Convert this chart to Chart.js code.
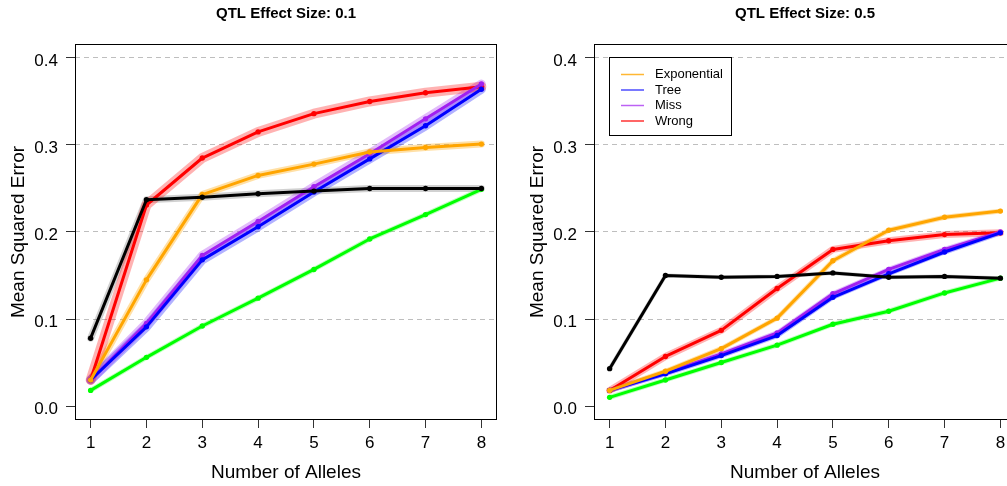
<!DOCTYPE html>
<html>
<head>
<meta charset="utf-8">
<script src="https://cdn.jsdelivr.net/npm/chart.js@4"></script>
<style>
  html, body { margin: 0; padding: 0; background: #fff; overflow: hidden; }
  #wrap { position: relative; width: 1007px; height: 486px; overflow: hidden; }
  canvas { position: absolute; top: 0; }
  #left { left: 0; }
  #right { left: 519px; }
</style>
</head>
<body>
<div id="wrap">
  <canvas id="left" width="572" height="486"></canvas>
  <canvas id="right" width="572" height="486"></canvas>
</div>
<script>
// x categories and tick labels
const alleles = [1, 2, 3, 4, 5, 6, 7, 8];
const yTicks = [0, 0.1, 0.2, 0.3, 0.4];
const panelTitles = ["QTL Effect Size: 0.1", "QTL Effect Size: 0.5"];
const legendLabels = ["Exponential", "Tree", "Miss", "Wrong"];

// QTL effect size 0.1
const exp01 = [0.030, 0.145, 0.243, 0.265, 0.278, 0.292, 0.297, 0.301];
const tree01 = [0.030, 0.091, 0.168, 0.206, 0.246, 0.284, 0.322, 0.364];
const miss01 = [0.030, 0.095, 0.173, 0.212, 0.252, 0.290, 0.330, 0.370];
const wrong01 = [0.030, 0.231, 0.285, 0.315, 0.336, 0.350, 0.360, 0.367];
const green01 = [0.018, 0.056, 0.092, 0.124, 0.157, 0.192, 0.220, 0.249];
const black01 = [0.078, 0.237, 0.240, 0.244, 0.247, 0.250, 0.250, 0.250];

// QTL effect size 0.5
const exp05 = [0.018, 0.040, 0.066, 0.101, 0.167, 0.202, 0.217, 0.224];
const tree05 = [0.018, 0.037, 0.058, 0.081, 0.125, 0.152, 0.177, 0.199];
const miss05 = [0.018, 0.038, 0.060, 0.084, 0.129, 0.157, 0.180, 0.200];
const wrong05 = [0.018, 0.057, 0.087, 0.135, 0.180, 0.190, 0.197, 0.199];
const green05 = [0.010, 0.030, 0.050, 0.070, 0.094, 0.109, 0.130, 0.147];
const black05 = [0.043, 0.150, 0.148, 0.149, 0.153, 0.148, 0.149, 0.147];

const FONT = '"Liberation Sans", Arial, sans-serif';
Chart.defaults.font.family = FONT;
Chart.defaults.color = "#000";

// colours (R defaults) and translucent band colours
const cols = {
  exp: ["#FFA500", "rgba(255,165,0,0.35)"],
  tree: ["#0000FF", "rgba(0,0,255,0.3)"],
  miss: ["#A020F0", "rgba(160,32,240,0.3)"],
  wrong: ["#FF0000", "rgba(255,0,0,0.3)"],
  green: ["#00FF00", "rgba(0,255,0,0.25)"],
  black: ["#000000", "rgba(0,0,0,0.18)"]
};

const boxPlugin = {
  id: "plotBox",
  afterDatasetsDraw(chart) {
    const { ctx, chartArea: a } = chart;
    ctx.save();
    ctx.strokeStyle = "#000";
    ctx.lineWidth = 1;
    ctx.strokeRect(a.left + 0.5, a.top + 0.5, a.right - a.left - 1, a.bottom - a.top - 1);
    ctx.restore();
  }
};

const legendPlugin = {
  id: "rLegend",
  afterDraw(chart) {
    const { ctx, chartArea: a } = chart;
    const x0 = a.left + 15, y0 = a.top + 13;
    const lineCols = ["rgba(255,165,0,0.8)", "rgba(0,0,255,0.7)", "rgba(160,32,240,0.7)", "rgba(255,0,0,0.8)"];
    ctx.save();
    ctx.strokeStyle = "#000";
    ctx.lineWidth = 1;
    ctx.strokeRect(x0 + 0.5, y0 + 0.5, 122, 78);
    ctx.font = "13px " + FONT;
    ctx.textBaseline = "middle";
    ctx.fillStyle = "#000";
    legendLabels.forEach((lab, i) => {
      const y = y0 + 17.5 + i * 15.5;
      ctx.strokeStyle = lineCols[i];
      ctx.lineWidth = 1.5;
      ctx.beginPath();
      ctx.moveTo(x0 + 12, y);
      ctx.lineTo(x0 + 35, y);
      ctx.stroke();
      ctx.fillText(lab, x0 + 46, y);
    });
    ctx.restore();
  }
};

function buildChart(id, title, series, extraPlugins) {
  const datasets = [];
  series.forEach((s, i) => {
    const pts = alleles.map((a, j) => ({ x: a, y: s.values[j] }));
    datasets.push({
      label: s.name + " band", data: pts, borderColor: s.col[1], borderWidth: s.band,
      pointRadius: 0, borderJoinStyle: "round", borderCapStyle: "round", order: 50 + i
    });
    datasets.push({
      label: s.name, data: pts, borderColor: s.col[0], backgroundColor: s.col[0],
      borderWidth: 3, pointRadius: 2.7, pointBorderWidth: 0,
      borderJoinStyle: "round", borderCapStyle: "round", order: 20 - i
    });
  });

  return new Chart(document.getElementById(id), {
    type: "line",
    data: { datasets },
    options: {
      responsive: false,
      animation: false,
      layout: { padding: { left: 0, right: 75, top: 0, bottom: 0 } },
      plugins: {
        legend: { display: false },
        tooltip: { enabled: false },
        title: {
          display: true, text: title, color: "#000", fullSize: false,
          font: { size: 15, weight: "bold" },
          padding: { top: 4.5, bottom: 21.5 }
        }
      },
      scales: {
        x: {
          type: "linear", min: 0.72, max: 8.28,
          afterBuildTicks: sc => { sc.ticks = alleles.map(v => ({ value: v })); },
          afterFit: sc => { sc.height = 66; },
          grid: { drawOnChartArea: false, tickLength: 8, tickColor: "#333", color: "#333" },
          border: { display: false },
          ticks: { font: { size: 17 }, color: "#000", padding: 5, maxRotation: 0, autoSkip: false, callback: v => String(v) },
          title: { display: true, text: "Number of Alleles", font: { size: 19 }, color: "#000", padding: { top: 0, bottom: 1.5 } }
        },
        y: {
          min: -0.016, max: 0.416,
          afterBuildTicks: sc => { sc.ticks = yTicks.map(v => ({ value: v })); },
          afterFit: sc => { sc.width = 75; },
          grid: {
            color: c => (c.tick && c.tick.value === 0 ? "rgba(0,0,0,0)" : "#bebebe"),
            tickColor: "#333", tickLength: 9
          },
          border: { display: false, dash: [5, 4] },
          ticks: { font: { size: 17 }, color: "#000", padding: 8, labelOffset: 3, autoSkip: false, callback: v => v.toFixed(1) },
          title: { display: true, text: "Mean Squared Error", font: { size: 19 }, color: "#000", padding: { top: 7, bottom: 0 } }
        }
      }
    },
    plugins: [boxPlugin].concat(extraPlugins)
  });
}

buildChart("left", panelTitles[0], [
  { name: "Wrong", values: wrong01, col: cols.wrong, band: 10 },
  { name: "Miss", values: miss01, col: cols.miss, band: 9 },
  { name: "Tree", values: tree01, col: cols.tree, band: 9 },
  { name: "Exponential", values: exp01, col: cols.exp, band: 7 },
  { name: "Green", values: green01, col: cols.green, band: 5 },
  { name: "Black", values: black01, col: cols.black, band: 7 }
], []);

buildChart("right", panelTitles[1], [
  { name: "Wrong", values: wrong05, col: cols.wrong, band: 7 },
  { name: "Miss", values: miss05, col: cols.miss, band: 5 },
  { name: "Tree", values: tree05, col: cols.tree, band: 5 },
  { name: "Exponential", values: exp05, col: cols.exp, band: 5 },
  { name: "Green", values: green05, col: cols.green, band: 5 },
  { name: "Black", values: black05, col: cols.black, band: 4 }
], [legendPlugin]);
</script>
</body>
</html>
